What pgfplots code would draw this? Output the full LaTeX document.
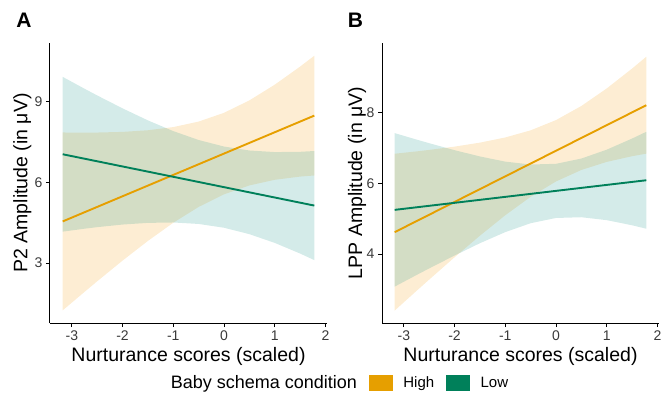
\documentclass[border=0pt]{standalone}
\usepackage{pgfplots}
\pgfplotsset{compat=1.18}
\usepackage{fontspec}
\setmainfont{Liberation Sans}
\definecolor{hi}{HTML}{E69F00}
\definecolor{lo}{HTML}{00805A}
\definecolor{hifill}{HTML}{F5A623}
\definecolor{lofill}{HTML}{2A9D8F}
\definecolor{tickgray}{HTML}{3A3A3A}
\pgfplotsset{
  panel/.style={
    scale only axis, width=277pt, height=280pt,
    axis x line*=bottom, axis y line*=left,
    axis line style={black, line width=1pt},
    xmin=-3.43, xmax=2.03,
    xtick={-3,-2,-1,0,1,2},
    tick style={black, line width=1pt}, tick align=outside, major tick length=4pt,
    tick label style={font=\fontsize{14}{16}\selectfont, text=tickgray},
    /pgf/number format/assume math mode=true,
    xlabel={Nurturance scores (scaled)},
    label style={font=\fontsize{19.5}{22}\selectfont},
    xlabel style={at={(axis description cs:0.5,-0.118)}, anchor=center},
    clip=false,
  },
  ribbon/.style={draw=none, fill=#1, fill opacity=0.2, forget plot},
  fit/.style={draw=#1, line width=1.9pt, no markers, forget plot},
}
\begin{document}
\begin{tikzpicture}
\useasboundingbox (0,0) rectangle (664pt,392pt);
\node[font=\bfseries\fontsize{21}{24}\selectfont] at (24pt,371.5pt) {A};
\node[font=\bfseries\fontsize{21}{24}\selectfont] at (355.5pt,371.5pt) {B};
% ---------------- Panel A ----------------
\begin{axis}[panel, at={(50pt,69pt)}, anchor=south west,
  ymin=0.77, ymax=11.19, ytick={3,6,9},
  ylabel={P2 Amplitude (in μV)},
  ylabel style={at={(axis description cs:-0.1,0.5)}, anchor=center},
  legend style={at={(axis description cs:1.029,-0.214)}, anchor=center, draw=none, fill=none,
    legend columns=-1, font=\fontsize{15}{18}\selectfont,
    /tikz/every odd column/.append style={column sep=9pt},
    /tikz/every even column/.append style={column sep=10pt}},
]
\addlegendimage{empty legend}
\addlegendentry{\fontsize{18}{20}\selectfont Baby schema condition}
\addlegendimage{legend image code/.code={\fill[hi] (0pt,-7.5pt) rectangle (23pt,7.5pt);}}
\addlegendentry{High}
\addlegendimage{legend image code/.code={\fill[lo] (0pt,-7.5pt) rectangle (23pt,7.5pt);}}
\addlegendentry{Low}
% High ribbon
\addplot[ribbon=hifill] coordinates {
(-3.18,7.860) (-2.75,7.855) (-2.5,7.858) (-2,7.882) (-1.5,7.943) (-1,8.061) (-0.5,8.266) (0,8.592) (0.5,9.054) (1,9.639) (1.5,10.313) (1.78,10.716)
(1.78,6.260) (1.5,6.219) (1,6.099) (0.5,5.890) (0,5.558) (-0.5,5.090) (-1,4.501) (-1.5,3.825) (-2,3.092) (-2.5,2.322) (-2.75,1.927) (-3.18,1.240)};
% Low ribbon
\addplot[ribbon=lofill] coordinates {
(-3.18,9.930) (-2.75,9.489) (-2.5,9.239) (-2,8.758) (-1.5,8.310) (-1,7.911) (-0.5,7.580) (0,7.337) (0.5,7.190) (1,7.131) (1.5,7.141) (1.78,7.170)
(1.78,3.110) (1.5,3.355) (1,3.751) (0.5,4.076) (0,4.315) (-0.5,4.456) (-1,4.511) (-1.5,4.496) (-2,4.434) (-2.5,4.337) (-2.75,4.279) (-3.18,4.170)};
\addplot[fit=hi] coordinates {(-3.18,4.550) (1.78,8.488)};
\addplot[fit=lo] coordinates {(-3.18,7.050) (1.78,5.140)};
\end{axis}
% ---------------- Panel B ----------------
\begin{axis}[panel, at={(382pt,69pt)}, anchor=south west,
  ymin=2.05, ymax=9.97, ytick={4,6,8},
  ylabel={LPP Amplitude (in μV)},
  ylabel style={at={(axis description cs:-0.09,0.5)}, anchor=center},
]
\addplot[ribbon=hifill] coordinates {
(-3.18,6.838) (-2.75,6.904) (-2.5,6.946) (-2,7.039) (-1.5,7.152) (-1,7.298) (-0.5,7.500) (0,7.790) (0.5,8.189) (1,8.685) (1.5,9.248) (1.78,9.582)
(1.78,6.840) (1.5,6.768) (1,6.607) (0.5,6.379) (0,6.054) (-0.5,5.620) (-1,5.098) (-1.5,4.520) (-2,3.909) (-2.5,3.278) (-2.75,2.958) (-3.18,2.402)};
\addplot[ribbon=lofill] coordinates {
(-3.18,7.421) (-2.75,7.239) (-2.5,7.136) (-2,6.939) (-1.5,6.761) (-1,6.615) (-0.5,6.533) (0,6.553) (0.5,6.702) (1,6.953) (1.5,7.268) (1.78,7.459)
(1.78,4.717) (1.5,4.814) (1,4.959) (0.5,5.042) (0,5.021) (-0.5,4.873) (-1,4.621) (-1.5,4.307) (-2,3.959) (-2.5,3.594) (-2.75,3.407) (-3.18,3.079)};
\addplot[fit=hi] coordinates {(-3.18,4.620) (1.78,8.211)};
\addplot[fit=lo] coordinates {(-3.18,5.250) (1.78,6.088)};
\end{axis}
\end{tikzpicture}
\end{document}
